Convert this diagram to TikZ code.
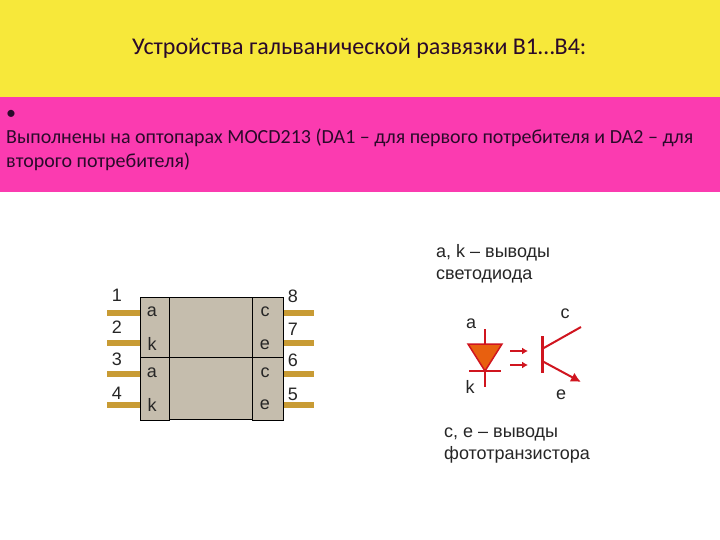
\documentclass[tikz,border=0pt]{standalone}
\usepackage{fontspec}
\setmainfont{Carlito}
\newfontfamily\arialf{Liberation Sans}
\usetikzlibrary{arrows.meta}
\definecolor{ybar}{HTML}{F7E83A}
\definecolor{pbar}{HTML}{FB3BB0}
\definecolor{chipc}{HTML}{C5BDAD}
\definecolor{pinc}{HTML}{C89B34}
\definecolor{redl}{HTML}{D0151F}
\definecolor{orangef}{HTML}{E8600F}
\definecolor{txt}{HTML}{2A0A2A}
\tikzset{
  x=1pt,y=-1pt,
  band/.style={draw=none,fill=#1},
  headtext/.style={font=\fontsize{20}{24}\selectfont,text=txt,inner sep=0,anchor=base west},
  lab/.style={font=\arialf\fontsize{18}{22}\selectfont,text=black!85,inner sep=0},
  pinline/.style={draw=pinc,line width=6pt},
  chipbox/.style={draw=black,line width=1pt,fill=chipc},
  optoline/.style={draw=redl,line width=2pt},
}
\begin{document}
\begin{tikzpicture}
\useasboundingbox (0,0) rectangle (720,540);
\fill[white] (0,0) rectangle (720,540);
\fill[band=ybar] (0,0) rectangle (720,97);
\fill[band=pbar] (0,97) rectangle (720,192.5);
\node[headtext,font=\fontsize{24}{28}\selectfont] (title) at (132,55) {Устройства гальванической развязки В1…В4:};
\node[headtext] (bullet) at (6,120) {•};
\node[headtext] (l1) at (6,143.5) {Выполнены на оптопарах MOCD213 (DA1 – для первого потребителя и DA2 – для};
\node[headtext] (l2) at (6,167.5) {второго потребителя)};
% pins
\foreach \y/\n in {313/a,343/b,374/c,405/d}{
  \coordinate (L\n) at (107,\y); \coordinate (LE\n) at (140,\y);
  \coordinate (R\n) at (314,\y); \coordinate (RE\n) at (283,\y);
  \draw[pinline] (L\n) -- (LE\n);
  \draw[pinline] (RE\n) -- (R\n);
}
% chip
\draw[chipbox] (140,297) rectangle (283,419);
\draw[chipbox] (140,297) rectangle (169,420.5);
\draw[chipbox] (252,297) rectangle (283,420.5);
\draw[draw=black,line width=0.8pt] (140,357) -- (283,357);
% pin numbers
\foreach \x/\y/\t in {117/295/1,117/327/2,117/359/3,117/393/4,293/296/8,293/329/7,293/360/6,293/394/5}
  \node[lab] at (\x,\y) {\t};
\foreach \x/\y/\t in {152/312/a,152/344/k,152/373/a,152/405/k,265/312/c,265/345/e,265/373/c,265/405/e}
  \node[lab] at (\x,\y) {\t};
% texts
\node[lab,anchor=base west] at (436,257) {a, k – выводы};
\node[lab,anchor=base west] at (436,279) {светодиода};
\node[lab,anchor=base west] at (444,437) {c, e – выводы};
\node[lab,anchor=base west] at (444,459) {фототранзистора};
\node[lab] at (471,324) {a};
\node[lab] at (565,314) {c};
\node[lab] at (470,387) {k};
\node[lab] at (561,395) {e};
% diode
\coordinate (da) at (485,329); \coordinate (dk) at (485,387);
\draw[optoline] (da) -- (dk);
\draw[draw=redl,line width=1.5pt,fill=orangef] (468,344) -- (502,344) -- (485,371) -- cycle;
\draw[optoline] (469,371) -- (501,371);
% light arrows
\draw[draw=redl,line width=1.2pt,-{Latex[length=6pt,width=7pt]}] (510,351) -- (528,351);
\draw[draw=redl,line width=1.2pt,-{Latex[length=6pt,width=7pt]}] (510,365) -- (528,365);
% transistor
\draw[optoline,line width=3pt] (542,336) -- (542,373);
\draw[optoline] (542,349) -- (581,327);
\draw[optoline,-{Latex[length=10pt,width=10pt]}] (542,361) -- (581,382);
\end{tikzpicture}
\end{document}
